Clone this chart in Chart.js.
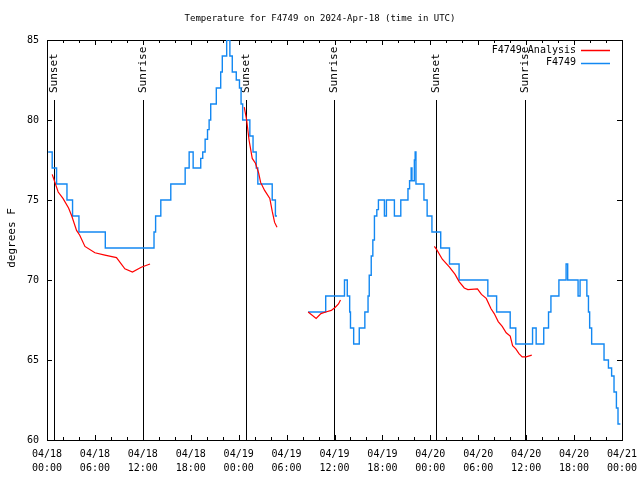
<!DOCTYPE html>
<html>
<head>
<meta charset="utf-8">
<style>
  html, body { margin: 0; padding: 0; background: #fff; }
  #wrap { width: 640px; height: 480px; }
</style>
</head>
<body>
<div id="wrap"><canvas id="tempChart" width="640" height="480"></canvas></div>
<script src="https://cdn.jsdelivr.net/npm/chart.js"></script>
<script>
// hours since 2024-04-18 00:00 UTC; null = gap in the record
let obsHours = [0.15, 0.65, 1.2, 2.5, 3.2, 4.0, 7.3, 13.4, 13.6, 14.25, 15.5, 17.3, 17.8, 18.3,
  19.25, 19.5, 19.8, 20.1, 20.3, 20.5, 21.2, 21.75, 21.95, 22.5, 22.9, 23.2, 23.7, 24.1, 24.3, 24.5,
  25.4, 25.8, 26.2, 26.4, 28.2, 28.6, 28.8,
  30.5,
  32.7, 34.9, 37.25, 37.6, 37.9, 38.0, 38.4, 39.1, 39.8, 40.2, 40.35, 40.6, 40.8, 41.0, 41.3, 41.5,
  42.25, 42.5, 43.5, 44.3, 45.2, 45.4, 45.6, 45.7, 46.0, 46.1, 46.2, 47.2, 47.6, 48.2, 49.3, 50.4,
  51.6, 55.2, 56.3, 58.0, 58.7, 60.8, 61.25, 62.2, 62.8, 63.1, 64.1, 65.0, 65.2, 66.5, 66.75, 67.6,
  67.8, 67.95, 68.2, 69.75, 70.3, 70.7, 71.0, 71.3, 71.5, 71.8];
let obsTemps = [78, 77, 76, 75, 74, 73, 72, 73, 74, 75, 76, 77, 78, 77,
  77.6, 78, 78.8, 79.4, 80, 81, 82, 83, 84, 85, 84, 83, 82.5, 82, 81, 80,
  79, 78, 77, 76, 75, 74, 74,
  null,
  68, 69, 70, 69, 68, 67, 66, 67, 68, 69, 70.3, 71.5, 72.5, 74, 74.4, 75,
  74, 75, 74, 75, 75.7, 76.2, 77, 76.2, 77.5, 78, 76, 75, 74, 73, 72, 71,
  70, 69, 68, 67, 66, 67, 66, 67, 68, 69, 70, 71, 70, 69, 70, 69,
  68, 67, 66, 65, 64.5, 64, 63, 62, 61, 61];

let anaHours = [0.65, 1.4, 2.0, 2.7, 3.1, 3.7, 4.1, 4.75, 6.0, 7.25, 8.7, 9.75, 10.7, 11.8, 12.9,
  18.0,
  24.7, 25.0, 25.3, 25.7, 26.1, 26.5, 26.75, 27.25, 27.9, 28.2, 28.5, 28.8,
  30.5,
  32.7, 33.7, 34.3, 34.9, 35.6, 36.1, 36.5, 36.75,
  42.0,
  48.5, 48.8, 49.5, 50.4, 51.1, 51.6, 52.25, 52.7, 53.9, 54.4, 55.0, 55.6, 56.0, 56.5, 57.0, 57.5,
  58.0, 58.3, 58.7, 59.1, 59.5, 60.0, 60.7];
let anaTemps = [76.6, 75.5, 75.1, 74.5, 74.0, 73.1, 72.8, 72.1, 71.7, 71.56, 71.4, 70.7, 70.5, 70.8, 71.0,
  null,
  80.8, 80.0, 78.75, 77.6, 77.3, 76.7, 76.1, 75.6, 75.1, 74.3, 73.6, 73.3,
  null,
  68.0, 67.6, 67.9, 68.0, 68.1, 68.3, 68.5, 68.75,
  null,
  72.1, 71.9, 71.3, 70.8, 70.35, 69.9, 69.5, 69.4, 69.45, 69.1, 68.85, 68.2, 67.9, 67.4, 67.1, 66.7,
  66.5, 65.9, 65.7, 65.4, 65.2, 65.2, 65.3];

let eventHours = [0.875, 12.0, 24.875, 35.875, 48.75, 59.875];
let eventLabels = ['Sunset', 'Sunrise', 'Sunset', 'Sunrise', 'Sunset', 'Sunrise'];

let dayLabels = ['04/18', '04/19', '04/20', '04/21'];
let titleText = 'Temperature for F4749 on 2024-Apr-18 (time in UTC)';

const mono = "'DejaVu Sans Mono', 'Liberation Mono', monospace";

function pts(xs, ys) {
    return xs.map((x, i) => ({x: x, y: ys[i]}));
}

// frame, inward tics, sunrise/sunset markers, title, axis label, legend
const gnuStyle = {
    id: 'gnuStyle',
    beforeDatasetsDraw(chart) {
        let c = chart.ctx, a = chart.chartArea;
        let xs = chart.scales.x, ys = chart.scales.y;
        c.save();
        c.strokeStyle = '#000';
        c.lineWidth = 1;
        c.beginPath();
        for (let h = 0; h <= 72; h += 2) {
            let px = Math.round(xs.getPixelForValue(h)) + 0.5;
            let len = h % 6 === 0 ? 5 : 3;
            c.moveTo(px, a.bottom); c.lineTo(px, a.bottom - len);
            c.moveTo(px, a.top); c.lineTo(px, a.top + len);
        }
        for (let v = 60; v <= 85; v += 5) {
            let py = Math.round(ys.getPixelForValue(v)) + 0.5;
            c.moveTo(a.left, py); c.lineTo(a.left + 5, py);
            c.moveTo(a.right, py); c.lineTo(a.right - 5, py);
        }
        c.stroke();

        // sunrise / sunset
        c.font = '11px ' + mono;
        c.fillStyle = '#000';
        eventHours.forEach((h, i) => {
            let px = Math.round(xs.getPixelForValue(h)) + 0.5;
            c.beginPath();
            c.moveTo(px, 100); c.lineTo(px, a.bottom);
            c.stroke();
            c.save();
            c.translate(px, 93);
            c.rotate(-Math.PI / 2);
            c.textAlign = 'left';
            c.textBaseline = 'middle';
            c.fillText(eventLabels[i], 0, 0);
            c.restore();
        });

        c.strokeRect(a.left + 0.5, a.top + 0.5, a.right - a.left, a.bottom - a.top);
        c.restore();
    },
    afterDraw(chart) {
        let c = chart.ctx;
        c.save();
        c.fillStyle = '#000';
        c.font = '9px ' + mono;
        c.textAlign = 'center';
        c.textBaseline = 'middle';
        c.fillText(titleText, 320, 19);

        c.save();
        c.font = '11px ' + mono;
        c.translate(12, 238);
        c.rotate(-Math.PI / 2);
        c.fillText('degrees F', 0, 0);
        c.restore();

        c.font = '10px ' + mono;
        c.textAlign = 'right';
        chart.data.datasets.forEach((ds, i) => {
            let y = 50 + i * 12.5;
            c.fillText(ds.label, 576, y);
            c.strokeStyle = ds.borderColor;
            c.lineWidth = 1.5;
            c.beginPath();
            c.moveTo(581, Math.round(y) + 0.5);
            c.lineTo(610, Math.round(y) + 0.5);
            c.stroke();
        });
        c.restore();
    }
};

let ctx = document.getElementById('tempChart').getContext('2d');
let chart = new Chart(ctx, {
    type: 'line',
    data: {
        datasets: [{
            label: 'F4749 Analysis',
            data: pts(anaHours, anaTemps),
            borderColor: '#ff0000',
            borderWidth: 1.2,
            pointRadius: 0,
            spanGaps: false,
            tension: 0
        }, {
            label: 'F4749',
            data: pts(obsHours, obsTemps),
            borderColor: '#1388f2',
            borderWidth: 1.4,
            pointRadius: 0,
            stepped: true,
            spanGaps: false,
            tension: 0
        }]
    },
    options: {
        animation: false,
        responsive: false,
        devicePixelRatio: 1,
        layout: { padding: { top: 40, right: 18, left: 0, bottom: 0 } },
        plugins: { legend: { display: false }, tooltip: { enabled: false }, title: { display: false } },
        scales: {
            x: {
                type: 'linear',
                min: 0, max: 72,
                grid: { display: false, drawTicks: false },
                border: { display: false },
                afterFit: s => { s.height = 40; s.paddingLeft = 0; s.paddingRight = 0; },
                ticks: {
                    stepSize: 6,
                    autoSkip: false,
                    maxRotation: 0,
                    padding: 7,
                    color: '#000',
                    font: { family: mono, size: 10, lineHeight: 1.4 },
                    callback: v => {
                        let d = dayLabels[Math.floor(v / 24)];
                        let hh = String(v % 24).padStart(2, '0');
                        return [d, hh + ':00'];
                    }
                }
            },
            y: {
                min: 60, max: 85,
                grid: { display: false, drawTicks: false },
                border: { display: false },
                afterFit: s => { s.width = 47; s.paddingTop = 0; s.paddingBottom = 0; },
                ticks: {
                    stepSize: 5,
                    padding: 8,
                    color: '#000',
                    font: { family: mono, size: 10 }
                }
            }
        }
    },
    plugins: [gnuStyle]
});
</script>
</body>
</html>
